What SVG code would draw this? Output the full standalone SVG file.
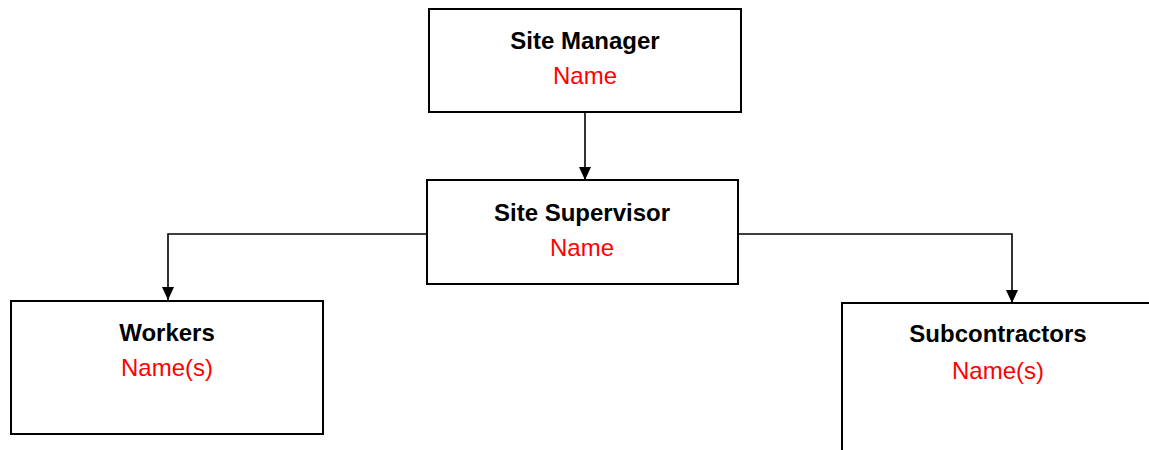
<svg xmlns="http://www.w3.org/2000/svg" width="1149" height="450" viewBox="0 0 1149 450">
  <style>
    .box { fill: #ffffff; stroke: #000000; stroke-width: 2; }
    .title { font-family: "Liberation Sans", Arial, sans-serif; font-size: 24px; font-weight: bold; fill: #000000; text-anchor: middle; }
    .name { font-family: "Liberation Sans", Arial, sans-serif; font-size: 24px; fill: #ff0000; text-anchor: middle; }
    .link { fill: none; stroke: #000000; stroke-width: 1.6; }
  </style>
  <defs>
    <!-- solid triangular arrowhead, tip at the end of the line -->
    <marker id="arrow" viewBox="0 0 13 12" refX="13" refY="6" markerWidth="13" markerHeight="12" markerUnits="userSpaceOnUse" orient="auto">
      <path d="M0,0 L13,6 L0,12 Z" fill="#000000"/>
    </marker>
  </defs>
  <rect width="1149" height="450" fill="#ffffff"/>

  <!-- connectors -->
  <g id="connectors">
    <path class="link" d="M585,112 L585,180" marker-end="url(#arrow)"/>
    <path class="link" d="M427,234 L168,234 L168,300" marker-end="url(#arrow)"/>
    <path class="link" d="M738,234 L1012,234 L1012,303" marker-end="url(#arrow)"/>
  </g>

  <g id="site-manager">
    <rect class="box" x="429" y="9" width="312" height="103"/>
    <text class="title" x="585" y="49">Site Manager</text>
    <text class="name" x="585" y="84">Name</text>
  </g>

  <g id="site-supervisor">
    <rect class="box" x="427" y="180" width="311" height="104"/>
    <text class="title" x="582" y="221">Site Supervisor</text>
    <text class="name" x="582" y="256">Name</text>
  </g>

  <g id="workers">
    <rect class="box" x="11" y="301" width="312" height="133"/>
    <text class="title" x="167" y="341">Workers</text>
    <text class="name" x="167" y="376">Name(s)</text>
  </g>

  <g id="subcontractors">
    <rect class="box" x="842" y="303" width="312" height="160"/>
    <text class="title" x="998" y="342">Subcontractors</text>
    <text class="name" x="998" y="379">Name(s)</text>
  </g>
</svg>
